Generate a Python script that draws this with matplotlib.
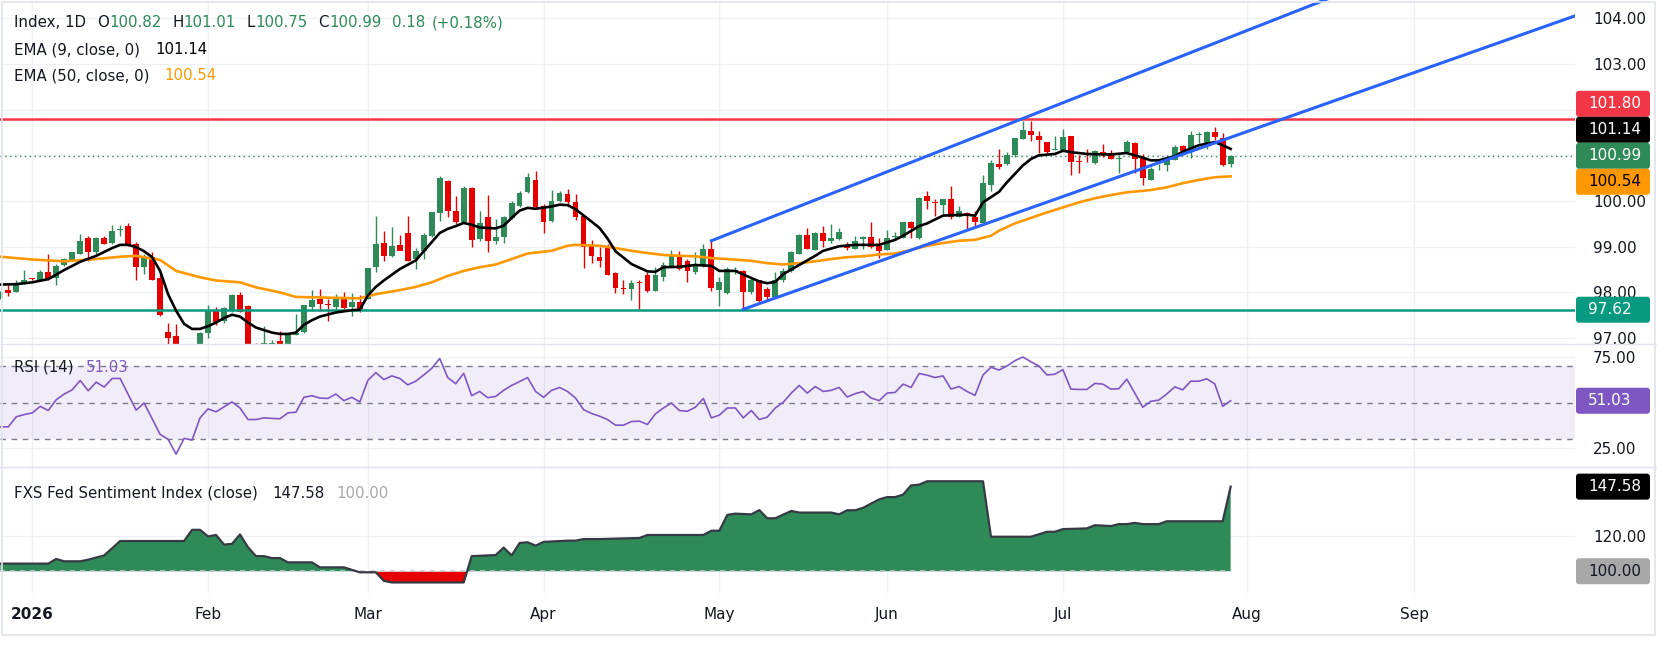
import numpy as np
import pandas as pd
import matplotlib
matplotlib.use("Agg")
import matplotlib.pyplot as plt
from matplotlib.patches import FancyBboxPatch
from matplotlib.lines import Line2D
from matplotlib.ticker import FuncFormatter, StrMethodFormatter
from matplotlib.transforms import Bbox, IdentityTransform

# ---------------- data ----------------
first_day, last_day, axis_end = "2025-12-26", "2026-07-30", "2026-09-30"
month_labels = ["2026", "Feb", "Mar", "Apr", "May", "Jun", "Jul", "Aug", "Sep"]

opens = [
    97.88, 98.06, 98.01, 98.20, 98.30, 98.27, 98.45, 98.31, 98.60, 98.71,
    98.85, 99.18, 98.88, 99.18, 99.08, 99.37, 99.46, 99.05, 98.55, 98.78,
    98.31, 97.14, 97.05, 96.70, 96.55, 96.75, 97.10, 97.61, 97.38, 97.60,
    97.95, 97.71, 96.88, 96.86, 96.87, 96.94, 96.85, 97.07, 97.14, 97.67,
    97.85, 97.74, 97.69, 97.87, 97.67, 97.80, 97.86, 98.55, 99.07, 98.80,
    99.04, 99.31, 98.72, 98.90, 99.24, 99.73, 100.43, 99.79, 99.53, 100.29,
    99.17, 99.66, 99.12, 99.21, 99.63, 99.90, 100.19, 100.45, 99.90, 99.56,
    99.99, 100.16, 99.97, 99.67, 99.04, 98.78, 99.00, 98.43, 98.08, 98.07,
    98.23, 98.39, 98.04, 98.34, 98.58, 98.80, 98.69, 98.44, 98.61, 98.94,
    98.06, 97.99, 98.45, 98.47, 98.00, 98.26, 98.07, 97.90, 98.26, 98.47,
    98.85, 99.26, 98.93, 99.31, 99.12, 99.16, 99.04, 98.96, 99.16, 99.22,
    99.01, 98.93, 99.21, 99.18, 99.53, 99.18, 100.12, 99.97, 99.92, 100.04,
    99.66, 99.74, 99.64, 99.52, 100.36, 100.82, 100.80, 101.00, 101.35, 101.54,
    101.43, 101.30, 101.12, 101.12, 101.42, 100.87, 100.88, 100.84, 101.08, 101.05,
    100.92, 101.07, 101.28, 100.95, 100.47, 100.74, 100.78, 100.90, 101.20, 101.08,
    101.45, 101.27, 101.52, 101.39, 100.82,
]
highs = [
    98.02, 98.17, 98.26, 98.49, 98.31, 98.50, 98.84, 98.62, 98.75, 98.89,
    99.28, 99.24, 99.21, 99.23, 99.48, 99.48, 99.51, 99.10, 98.83, 98.89,
    98.40, 97.33, 97.31, 96.82, 96.80, 97.13, 97.73, 97.69, 97.67, 97.96,
    98.00, 97.72, 96.90, 97.27, 96.95, 97.16, 97.11, 97.52, 97.73, 98.06,
    98.07, 97.85, 97.96, 98.00, 97.98, 97.94, 98.54, 99.68, 99.34, 99.43,
    99.25, 99.68, 98.97, 99.29, 99.75, 100.54, 100.47, 100.10, 100.32, 100.31,
    99.79, 100.14, 99.61, 99.68, 99.99, 100.23, 100.61, 100.65, 99.94, 100.24,
    100.23, 100.27, 100.16, 99.68, 99.15, 99.00, 99.06, 98.44, 98.26, 98.27,
    98.26, 98.44, 98.55, 98.66, 98.93, 98.91, 98.73, 98.88, 99.06, 99.13,
    98.33, 98.55, 98.55, 98.48, 98.33, 98.26, 98.11, 98.45, 98.53, 98.91,
    99.28, 99.42, 99.32, 99.45, 99.50, 99.40, 99.10, 99.24, 99.24, 99.53,
    99.18, 99.37, 99.33, 99.54, 99.57, 100.08, 100.21, 100.05, 100.05, 100.32,
    99.90, 99.75, 99.79, 100.58, 100.90, 101.13, 101.07, 101.38, 101.76, 101.76,
    101.54, 101.30, 101.43, 101.58, 101.43, 101.00, 101.14, 101.11, 101.25, 101.11,
    101.00, 101.33, 101.30, 101.03, 100.74, 100.81, 101.01, 101.22, 101.23, 101.53,
    101.51, 101.53, 101.63, 101.49, 101.01,
]
lows = [
    97.86, 97.92, 98.00, 98.18, 98.28, 98.26, 98.26, 98.16, 98.58, 98.70,
    98.84, 98.69, 98.85, 99.05, 99.06, 99.24, 99.02, 98.27, 98.40, 98.26,
    97.48, 96.87, 96.60, 96.45, 96.40, 96.70, 97.01, 97.29, 97.34, 97.58,
    97.56, 96.70, 96.70, 96.80, 96.85, 96.80, 96.80, 97.07, 97.10, 97.60,
    97.60, 97.38, 97.60, 97.63, 97.49, 97.56, 97.85, 98.44, 98.69, 98.77,
    98.93, 98.68, 98.51, 98.73, 99.21, 99.57, 99.66, 99.50, 99.51, 98.99,
    99.13, 98.88, 99.06, 99.07, 99.61, 99.86, 100.17, 99.83, 99.29, 99.53,
    99.97, 99.92, 99.59, 98.53, 98.64, 98.56, 98.37, 97.98, 97.96, 97.83,
    97.63, 98.00, 98.02, 98.24, 98.55, 98.50, 98.22, 98.40, 98.55, 98.04,
    97.71, 97.96, 98.40, 97.63, 97.96, 97.80, 97.83, 97.89, 98.22, 98.44,
    98.83, 98.94, 98.92, 98.99, 99.07, 99.15, 98.93, 98.96, 98.96, 98.98,
    98.75, 98.93, 99.15, 99.18, 99.19, 99.16, 99.83, 99.68, 99.72, 99.61,
    99.64, 99.39, 99.46, 99.51, 100.23, 100.70, 100.78, 100.96, 101.35, 101.31,
    101.05, 101.06, 101.11, 101.11, 100.56, 100.61, 100.85, 100.81, 100.96, 100.91,
    100.61, 101.05, 100.61, 100.34, 100.45, 100.67, 100.65, 100.89, 101.07, 100.95,
    101.27, 101.13, 101.34, 100.76, 100.75,
]
closes = [
    98.00, 97.98, 98.21, 98.28, 98.29, 98.45, 98.29, 98.58, 98.73, 98.88,
    99.13, 98.88, 99.18, 99.06, 99.35, 99.38, 99.04, 98.55, 98.78, 98.27,
    97.50, 97.01, 96.70, 96.55, 96.75, 97.12, 97.61, 97.36, 97.65, 97.95,
    97.58, 96.80, 96.85, 96.90, 96.89, 96.86, 97.10, 97.12, 97.73, 97.84,
    97.74, 97.73, 97.90, 97.66, 97.80, 97.63, 98.53, 99.05, 98.80, 99.02,
    98.90, 98.69, 98.91, 99.26, 99.75, 100.50, 99.79, 99.53, 100.29, 99.15,
    99.51, 99.12, 99.22, 99.64, 99.95, 100.18, 100.52, 99.86, 99.53, 100.01,
    100.18, 99.97, 99.64, 99.00, 98.79, 98.68, 98.39, 98.09, 98.07, 98.20,
    98.20, 98.02, 98.39, 98.61, 98.82, 98.51, 98.46, 98.62, 98.96, 98.09,
    98.22, 98.51, 98.49, 98.00, 98.27, 97.82, 97.89, 98.27, 98.47, 98.88,
    99.26, 98.95, 99.31, 99.12, 99.20, 99.33, 98.97, 99.13, 99.22, 98.99,
    98.90, 99.20, 99.23, 99.53, 99.42, 100.06, 99.99, 99.95, 100.04, 99.66,
    99.79, 99.67, 99.53, 100.39, 100.83, 100.74, 101.00, 101.38, 101.56, 101.44,
    101.33, 101.08, 101.14, 101.41, 100.85, 100.86, 100.87, 101.09, 101.06, 100.92,
    100.93, 101.30, 100.91, 100.50, 100.71, 100.75, 100.95, 101.19, 101.09, 101.44,
    101.46, 101.52, 101.40, 100.78, 100.99,
]

# EMA readings: bar number (0 = first bar of 2026) and value
ema9_x = [-4, -2, 0, 2, 4, 6, 8, 10, 11, 12, 13, 14, 15, 16, 17, 18, 19, 20, 21, 22,
          23, 24, 25, 26, 27, 28, 30, 31, 32, 33, 34, 35, 36, 38, 40, 41, 42, 43, 44, 46,
          48, 50, 51, 52, 53, 54, 55, 56, 58, 59, 60, 61, 62, 63, 65, 66, 67, 68, 70, 71,
          72, 73, 75, 77, 78, 79, 81, 83, 85, 86, 88, 89, 91, 92, 93, 94, 96, 98, 99, 101,
          103, 104, 106, 108, 109, 111, 112, 114, 115, 117, 118, 119, 121, 122, 124, 125,
          126, 128, 129, 130, 132, 134, 135, 137, 139, 140, 141, 143, 144, 146, 148, 149, 150]
ema9_y = [98.17, 98.18, 98.22, 98.29, 98.49, 98.67, 98.80, 98.97, 99.04, 99.04, 98.99, 98.90,
          98.77, 98.47, 97.96, 97.60, 97.31, 97.20, 97.20, 97.26, 97.34, 97.44, 97.51, 97.47,
          97.34, 97.23, 97.12, 97.09, 97.09, 97.12, 97.29, 97.39, 97.47, 97.56, 97.61, 97.62,
          97.93, 98.12, 98.26, 98.51, 98.70, 99.10, 99.30, 99.39, 99.45, 99.52, 99.48, 99.42,
          99.40, 99.46, 99.63, 99.79, 99.85, 99.83, 99.88, 99.92, 99.91, 99.82, 99.55, 99.41,
          99.18, 98.90, 98.62, 98.46, 98.45, 98.55, 98.56, 98.60, 98.58, 98.47, 98.47, 98.39,
          98.24, 98.20, 98.23, 98.40, 98.60, 98.80, 98.91, 99.01, 99.04, 99.04, 99.04, 99.15,
          99.24, 99.45, 99.51, 99.68, 99.69, 99.70, 99.68, 99.97, 100.20, 100.41, 100.78,
          100.92, 101.00, 101.03, 101.10, 101.07, 101.03, 101.02, 101.02, 101.05, 100.95,
          100.89, 100.89, 100.98, 101.08, 101.22, 101.29, 101.22, 101.14]
ema50_x = [-4, 0, 4, 8, 11, 13, 16, 18, 21, 23, 26, 28, 31, 33, 36, 38, 41, 43, 46, 48,
           50, 52, 54, 56, 58, 60, 62, 65, 67, 68, 71, 73, 75, 77, 79, 81, 83, 85, 87, 90,
           92, 94, 96, 98, 100, 102, 104, 106, 108, 110, 112, 114, 116, 118, 120, 121, 123,
           125, 127, 129, 131, 133, 135, 137, 140, 142, 144, 146, 148, 150]
ema50_y = [98.78, 98.72, 98.68, 98.73, 98.78, 98.80, 98.71, 98.47, 98.33, 98.26,
           98.22, 98.11, 98.00, 97.90, 97.89, 97.88, 97.87, 97.96, 98.05, 98.12,
           98.22, 98.36, 98.47, 98.55, 98.61, 98.73, 98.85, 98.91, 99.02, 99.04,
           99.02, 98.97, 98.91, 98.86, 98.82, 98.80, 98.79, 98.75, 98.73, 98.69,
           98.64, 98.61, 98.64, 98.68, 98.73, 98.77, 98.79, 98.83, 98.85, 98.93,
           99.02, 99.08, 99.13, 99.15, 99.24, 99.35, 99.51, 99.63, 99.75, 99.86,
           99.97, 100.06, 100.13, 100.19, 100.24, 100.30, 100.39, 100.46, 100.52, 100.54]

rsi = [
    36.8, 36.8, 42.3, 43.5, 44.4, 48.0, 45.7, 51.6, 54.7, 57.0,
    62.1, 56.5, 61.2, 58.5, 63.2, 63.2, 54.5, 45.9, 49.8, 41.2,
    32.7, 30.0, 21.9, 30.5, 29.6, 41.7, 46.6, 45.0, 47.7, 50.4,
    47.1, 40.8, 40.8, 41.7, 41.4, 41.2, 44.4, 44.8, 52.9, 53.8,
    52.5, 52.3, 54.7, 51.1, 52.9, 50.4, 62.1, 66.4, 62.6, 64.6,
    63.2, 59.7, 61.7, 65.1, 68.7, 74.1, 63.7, 60.3, 66.0, 53.8,
    56.1, 52.7, 53.4, 56.7, 59.4, 61.5, 63.7, 56.1, 52.9, 56.7,
    58.3, 56.1, 52.5, 46.2, 44.1, 42.6, 40.8, 37.7, 37.7, 39.7,
    39.9, 38.1, 43.9, 47.1, 49.8, 45.7, 45.3, 47.5, 52.3, 41.7,
    43.2, 47.1, 47.1, 41.7, 45.7, 40.8, 42.1, 47.1, 50.2, 55.2,
    59.4, 55.2, 58.8, 56.1, 56.7, 58.3, 53.1, 54.9, 56.1, 52.5,
    51.1, 55.2, 55.6, 60.1, 58.3, 65.9, 65.0, 63.7, 64.6, 57.4,
    58.8, 56.1, 54.0, 65.1, 69.3, 67.8, 70.0, 72.9, 74.9, 72.3,
    70.0, 65.1, 65.5, 68.0, 57.4, 57.2, 57.2, 60.5, 60.1, 57.4,
    57.6, 62.8, 55.2, 47.5, 50.7, 51.4, 54.7, 58.6, 57.0, 61.7,
    61.7, 63.0, 60.3, 48.0, 51.03,
]

fed_x = [-4, 2, 3, 4, 6, 7, 9, 11, 19, 20, 21, 22, 23, 24, 25, 26, 27, 28, 29, 30,
         31, 32, 35, 36, 39, 41, 43, 44, 45, 54, 55, 58, 59, 60, 61, 62, 63, 64, 67, 68,
         69, 71, 76, 77, 84, 85, 86, 87, 88, 90, 91, 92, 93, 95, 96, 100, 101, 102, 103, 104,
         106, 107, 108, 109, 110, 111, 112, 119, 120, 125, 127, 128, 129, 132, 133, 135, 136,
         137, 138, 139, 141, 142, 149, 150]
fed_y = [104.3, 104.3, 106.9, 105.6, 105.6, 106.5, 108.9, 117.0, 117.0, 123.3,
         123.3, 119.6, 120.4, 115.0, 115.4, 120.7, 113.5, 108.5, 108.5, 107.4,
         107.4, 105.0, 105.0, 102.2, 102.2, 99.4, 99.4, 94.6, 93.7, 93.7,
         108.5, 109.1, 113.3, 108.9, 115.9, 116.3, 114.4, 116.5, 117.2, 117.2,
         118.1, 118.1, 118.7, 120.4, 120.4, 122.8, 122.8, 131.7, 132.4, 132.0,
         134.4, 129.8, 129.8, 133.9, 133.0, 133.0, 132.0, 134.3, 134.3, 135.7,
         140.4, 141.7, 141.7, 143.1, 148.3, 148.7, 150.6, 150.6, 119.4, 119.4,
         122.2, 122.2, 123.7, 124.1, 125.9, 125.4, 126.5, 126.5, 127.2, 126.5,
         126.5, 128.1, 128.1, 147.58]

upper_channel_x, upper_channel_y = [85, 166], [99.13, 104.69]
lower_channel_x, lower_channel_y = [89, 195], [97.63, 104.17]
resistance, support = 101.80, 97.62
last_close, ema9_last, ema50_last = 100.99, 101.14, 100.54
rsi_last, fed_last, fed_base = 51.03, 147.58, 100.00

# ---------------- style ----------------
GREEN, RED, DARK = "#2e8b57", "#e60000", "#131722"
GRID, SEP = "#eef0f4", "#e0e3eb"
W, H = 1658, 646

fig = plt.figure(figsize=(W / 100, H / 100), dpi=100)
fig.patch.set_facecolor("white")
right = 1575 / W


def panel(top, bottom, **kw):
    return fig.add_axes([0, 1 - bottom / H, right, (bottom - top) / H], **kw)


ax = panel(0, 344)
ax_rsi = panel(344, 466.7, sharex=ax)
ax_fed = panel(466.7, 593.3, sharex=ax)

days = pd.bdate_range(first_day, last_day)
all_days = pd.bdate_range(first_day, axis_end)
x0 = all_days.get_loc(pd.Timestamp("2026-01-01"))
x = np.arange(len(days)) - x0
periods = all_days.to_period("M")
tick_x = [int(np.argmax(periods == p)) - x0
          for p in pd.period_range("2026-01", "2026-09", freq="M")]

# ---- price panel ----
o, h, l, c = map(np.array, (opens, highs, lows, closes))
colors = np.where(c >= o, GREEN, RED)
ax.vlines(x, l, h, colors=colors, lw=1, zorder=2)
ax.bar(x, np.maximum(np.abs(c - o), 0.015), bottom=np.minimum(o, c),
       width=0.72, color=colors, linewidth=0, zorder=2.1)
ax.plot(ema50_x, ema50_y, color="#ff9800", lw=1.9, zorder=3, solid_joinstyle="round")
ax.plot(ema9_x, ema9_y, color="black", lw=1.9, zorder=3.1, solid_joinstyle="round")
ax.axhline(resistance, color="#f23645", lw=1.8, zorder=2.5)
ax.axhline(support, color="#089981", lw=1.8, zorder=2.5)
ax.axhline(last_close, color=GREEN, lw=1, ls=(0, (1, 2.5)), zorder=1.5)
ax.plot(upper_channel_x, upper_channel_y, color="#2962ff", lw=2.2, zorder=4)
ax.plot(lower_channel_x, lower_channel_y, color="#2962ff", lw=2.2, zorder=4)
ax.set_ylim(96.87, 104.4)
ax.set_yticks(range(97, 105))

# ---- RSI panel ----
ax_rsi.axhspan(30, 70, color="#7e57c2", alpha=0.1, lw=0)
for v in (70, 50, 30):
    ax_rsi.axhline(v, color="#787b86", lw=1, ls=(0, (4, 4)))
ax_rsi.plot(x, rsi, color="#7e57c2", lw=1.2)
ax_rsi.set_ylim(15.05, 82.0)
ax_rsi.set_yticks([25, 75])

# ---- Fed sentiment panel ----
fx, fy = np.array(fed_x), np.array(fed_y)
ax_fed.fill_between(fx, fy, fed_base, where=fy >= fed_base, interpolate=True, color=GREEN, lw=0)
ax_fed.fill_between(fx, fy, fed_base, where=fy <= fed_base, interpolate=True, color=RED, lw=0)
ax_fed.plot([fx[0], fx[-1]], [fed_base, fed_base], color="#c3c6cc", lw=1.2, ls=(0, (3, 3)))
ax_fed.plot(fx, fy, color="#363a45", lw=1.6)
ax_fed.set_ylim(87.6, 158.8)
ax_fed.set_yticks([120])

for a in (ax, ax_rsi, ax_fed):
    a.set_facecolor("none")
    for s in a.spines.values():
        s.set_visible(False)
    a.set_axisbelow(True)
    a.grid(True, color=GRID, lw=1)
    a.yaxis.tick_right()
    a.yaxis.set_major_formatter(StrMethodFormatter("{x:.2f}"))
    a.tick_params(axis="y", length=0, pad=13, labelsize=11, labelcolor=DARK)
    a.tick_params(axis="x", length=0, labelbottom=False)

# 101.00 and 102.00 sit under the value tags in the reference
covered = {101, 102}
ax.yaxis.set_major_formatter(FuncFormatter(lambda v, _: "" if round(v) in covered else f"{v:.2f}"))

ax.set_xlim(-4.04, 193.1)
ax.set_xticks(tick_x)
ax_fed.set_xticklabels(month_labels)
ax_fed.tick_params(axis="x", labelbottom=True, labelsize=11, labelcolor=DARK, pad=10)
ax_fed.get_xticklabels()[0].set_fontweight("bold")

# main-panel price labels are cut at the panel border
clip = Bbox([[1575, H - 344], [W, H]])
for t in ax.yaxis.get_major_ticks():
    t.label2.set_clip_box(clip)
    t.label2.set_clip_on(True)

# ---------------- frame and separators ----------------
ident = IdentityTransform()
for y in (344, 466.7):
    fig.add_artist(Line2D([0, W], [H - y, H - y], color=SEP, lw=1, transform=ident))
fig.add_artist(Line2D([1.5, 1655, 1655, 1.5, 1.5], [H - 1.5, H - 1.5, H - 635, H - 635, H - 1.5],
                      color=SEP, lw=1.2, transform=ident))


# ---------------- axis value tags ----------------
def tag(yc, label, fc, tc):
    fig.add_artist(FancyBboxPatch((1576, yc - 13), 74, 26, boxstyle="round,pad=0,rounding_size=3",
                                  fc=fc, ec="none", transform=ident, zorder=5))
    fig.text(1588, yc, label, transform=ident, color=tc, fontsize=11,
             va="center", ha="left", zorder=6)


def ypix(a, v):
    return a.transData.transform((0, v))[1]


stack = [(resistance, "#f23645", "white"), (ema9_last, "black", "white"),
         (last_close, GREEN, "white"), (ema50_last, "#ff9800", "black")]
anchor = ypix(ax, last_close)
for k, (v, fc, tc) in enumerate(stack):
    tag(anchor + (2 - k) * 26, f"{v:.2f}", fc, tc)
tag(ypix(ax, support), f"{support:.2f}", "#089981", "white")
tag(ypix(ax_rsi, rsi_last), f"{rsi_last:.2f}", "#7e57c2", "white")
tag(ypix(ax_fed, fed_last), f"{fed_last:.2f}", "black", "white")
tag(ypix(ax_fed, fed_base), f"{fed_base:.2f}", "#a8a8a8", DARK)

# ---------------- legends ----------------
renderer = fig.canvas.get_renderer()


def text_row(xp, yp, parts, size=10.8):
    for s, col, gap in parts:
        t = fig.text(xp, H - yp, s, transform=ident, color=col, fontsize=size,
                     va="center", ha="left", zorder=6)
        xp += t.get_window_extent(renderer).width + gap


text_row(14, 22.7, [("Index, 1D", DARK, 11), ("O", DARK, 0), ("100.82", GREEN, 11),
                    ("H", DARK, 0), ("101.01", GREEN, 11), ("L", DARK, 0), ("100.75", GREEN, 11),
                    ("C", DARK, 0), ("100.99", GREEN, 11), ("0.18", GREEN, 6),
                    ("(+0.18%)", GREEN, 0)])
text_row(14, 50, [("EMA (9, close, 0)", DARK, 15), ("101.14", "black", 0)])
text_row(14, 76, [("EMA (50, close, 0)", DARK, 15), ("100.54", "#ff9800", 0)])
text_row(14, 367, [("RSI (14)", DARK, 12), ("51.03", "#7e57c2", 0)])
text_row(14, 493, [("FXS Fed Sentiment Index (close)", DARK, 14), ("147.58", DARK, 12),
                   ("100.00", "#a8a8a8", 0)])

fig.savefig("out.png", dpi=100, facecolor="white")
